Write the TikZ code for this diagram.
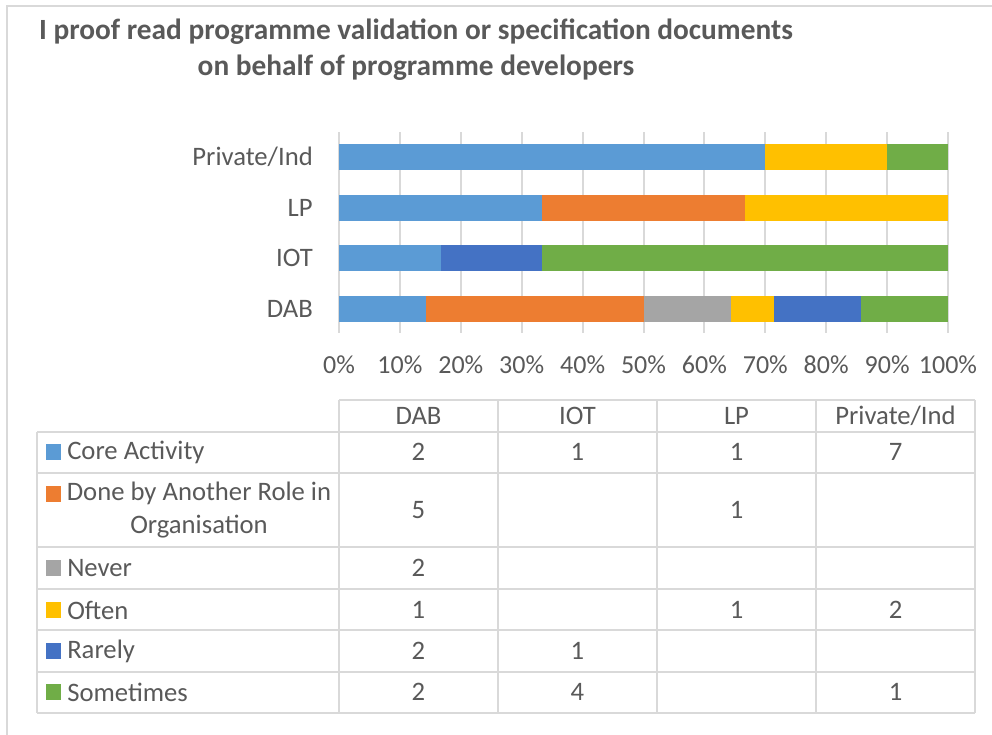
\documentclass[tikz,border=0pt]{standalone}
\usepackage{fontspec}
\setmainfont{Carlito}
\usepackage{xcolor}

\definecolor{txtgrey}{HTML}{595959}
\definecolor{linegrey}{HTML}{D9D9D9}
\definecolor{coreblue}{HTML}{5B9BD5}
\definecolor{doneorange}{HTML}{ED7D31}
\definecolor{nevergrey}{HTML}{A5A5A5}
\definecolor{oftenyellow}{HTML}{FFC000}
\definecolor{rarelyblue}{HTML}{4472C4}
\definecolor{somegreen}{HTML}{70AD47}

\tikzset{
  charttitle/.style={font=\fontsize{22}{27}\selectfont\bfseries, text=txtgrey, align=center, inner sep=0pt},
  catlabel/.style={font=\fontsize{20}{24}\selectfont, text=txtgrey, anchor=east, inner sep=0pt},
  ticklabel/.style={font=\fontsize{19.5}{22}\selectfont, text=txtgrey, inner sep=0pt},
  cell/.style={font=\fontsize{20}{24.75}\selectfont, text=txtgrey, inner sep=0pt},
  rowlabel/.style={font=\fontsize{20}{24}\selectfont, text=txtgrey, anchor=west, inner sep=0pt},
  gridline/.style={draw=linegrey, line width=1.5pt},
  tableline/.style={draw=linegrey, line width=1.2pt},
  legendkey/.style={minimum size=11.5pt, inner sep=0pt}
}

\begin{document}
\begin{tikzpicture}[x=0.75pt, y=-0.75pt]

    \useasboundingbox (0,0) rectangle (992,735);

    % Frame
    \draw[draw=linegrey, line width=1.5pt] (7,740) -- (7,6) -- (1000,6);

    % Title
    \node[charttitle] (title) at (416,50)
      {I proof read programme validation or specification documents\\on behalf of programme developers};

    % Grid and axis labels
    \foreach \p in {0,10,...,100} {
      \draw[gridline] ({339+6.09*\p},132) -- ({339+6.09*\p},333);
      \node[ticklabel] (tick\p) at ({339+6.09*\p},365) {\p\%};
    }

    % Bars
    \foreach \yc/\a/\b/\c in {
        157/0/70/coreblue, 157/70/90/oftenyellow, 157/90/100/somegreen,
        208/0/33.33/coreblue, 208/33.33/66.67/doneorange, 208/66.67/100/oftenyellow,
        258/0/16.67/coreblue, 258/16.67/33.33/rarelyblue, 258/33.33/100/somegreen,
        309/0/14.29/coreblue, 309/14.29/50/doneorange, 309/50/64.29/nevergrey,
        309/64.29/71.43/oftenyellow, 309/71.43/85.71/rarelyblue, 309/85.71/100/somegreen}
      \fill[\c] ({339+6.09*\a},\yc-13) rectangle ({339+6.09*\b},\yc+13);

    % Category labels
    \node[catlabel] (cat-priv) at (313,157) {Private/Ind};
    \node[catlabel] (cat-lp)   at (313,208) {LP};
    \node[catlabel] (cat-iot)  at (313,258) {IOT};
    \node[catlabel] (cat-dab)  at (313,309) {DAB};

    % Data table
    \draw[tableline] (339,400) -- (975,400);
    \foreach \yl in {432,473,547,589,630,672,713}
      \draw[tableline] (37,\yl) -- (975,\yl);
    \draw[tableline] (37,432) -- (37,713);
    \foreach \xl in {339,498,657,816,975}
      \draw[tableline] (\xl,400) -- (\xl,713);

    % Column heads
    \foreach \h [count=\i] in {DAB,IOT,LP,Private/Ind}
      \node[cell] (head\i) at ({418.5+159*(\i-1)},416) {\h};

    % Row labels with legend keys
    \foreach \n/\yc/\c/\t in {core/452/coreblue/Core Activity, never/568/nevergrey/Never,
        often/610/oftenyellow/Often, rarely/651/rarelyblue/Rarely, some/692/somegreen/Sometimes} {
      \node[legendkey, fill=\c] (key-\n) at (53.5,\yc) {};
      \node[rowlabel] (row-\n) at (67,\yc) {\t};
    }
    \node[legendkey, fill=doneorange] (key-done) at (53.5,494) {};
    \node[cell, align=center] (row-done) at (199,510)
      {Done by Another Role in\\Organisation};

    % Cell values
    \foreach \i/\yc/\v in {1/452/2, 2/452/1, 3/452/1, 4/452/7,
        1/510/5, 3/510/1,
        1/568/2,
        1/610/1, 3/610/1, 4/610/2,
        1/651/2, 2/651/1,
        1/692/2, 2/692/4, 4/692/1}
      \node[cell] (val-\i-\yc) at ({418.5+159*(\i-1)},\yc) {\v};

\end{tikzpicture}
\end{document}
